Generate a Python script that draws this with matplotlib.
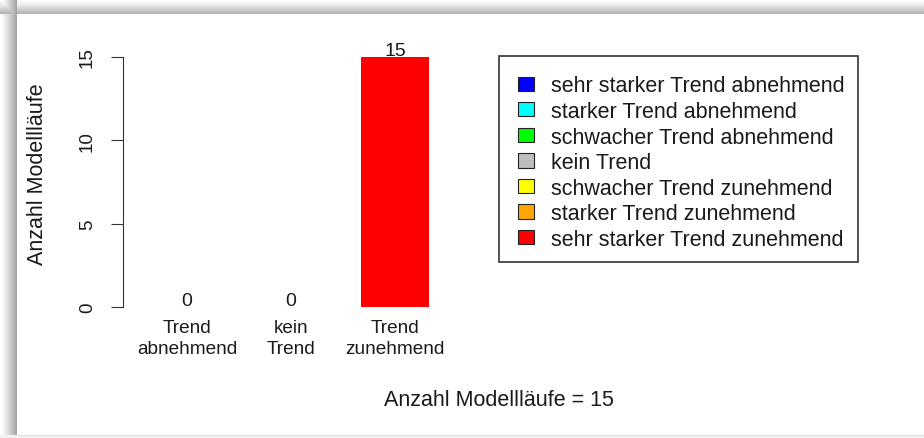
import numpy as np
import matplotlib
matplotlib.use("Agg")
import matplotlib.pyplot as plt
from matplotlib.patches import Patch, Rectangle

plt.rcParams['font.family'] = ['Liberation Sans', 'DejaVu Sans']

# data
categories = ["Trend\nabnehmend", "kein\nTrend", "Trend\nzunehmend"]
counts = [0, 0, 15]
bar_colors = ["#0000ff", "#bebebe", "#ff0000"]

legend_labels = [
    "sehr starker Trend abnehmend",
    "starker Trend abnehmend",
    "schwacher Trend abnehmend",
    "kein Trend",
    "schwacher Trend zunehmend",
    "starker Trend zunehmend",
    "sehr starker Trend zunehmend",
]
legend_colors = ["#0000ff", "#00ffff", "#00ff00", "#bebebe",
                 "#ffff00", "#ffa500", "#ff0000"]

y_ticks = [0, 5, 10, 15]
n_runs = sum(counts)

W, H = 924, 439
fig = plt.figure(figsize=(W / 100, H / 100), dpi=100)

# gray drop-shadow frame around the white plot area
xs = np.arange(W)[None, :] * np.ones((H, 1))
ys = np.arange(H)[:, None] * np.ones((1, W))
shade_x = np.where(xs < 17, 0.36 * (xs / 16.0) ** 1.3, 0)
shade_y = np.where(ys < 15, 0.30 * (ys / 14.0) ** 1.3, 0)
shade = np.maximum(shade_x, shade_y)
shade = np.where((xs < 17) & (ys >= 15), shade_x, shade)
shade = np.where((ys < 15) & (xs >= 17), shade_y, shade)
bg = 1 - shade
bg[436:, :] = 0.95
bg[436, 17:] = 0.88
fig.figimage(bg, xo=0, yo=0, origin="upper", cmap="gray", vmin=0, vmax=1, zorder=-10)

ax = fig.add_axes([123 / W, 1 - 308 / H, (875 - 123) / W, (308 - 58) / H])
ax.patch.set_alpha(0)

x = np.arange(len(categories))
ax.bar(x, counts, width=0.645, color=bar_colors)

for xi, v in zip(x, counts):
    ax.text(xi, v + 0.12, str(v), ha="center", va="baseline", fontsize=14,
            color="#1a1a1a", clip_on=False)

ax.set_xlim(-0.615, 6.615)
ax.set_ylim(0, 15)
ax.set_yticks(y_ticks)
ax.set_yticklabels([str(t) for t in y_ticks], rotation=90, va="center")
ax.set_xticks(x)
ax.set_xticklabels(categories, fontsize=13.7, linespacing=1.3, color="#1a1a1a")

for s in ["top", "right", "bottom"]:
    ax.spines[s].set_visible(False)
ax.spines["left"].set_bounds(0, 15)
ax.spines["left"].set_color("#333333")
ax.tick_params(axis="x", length=0, pad=9)
ax.tick_params(axis="y", length=8.6, pad=11, labelsize=13.5, colors="#333333",
               labelcolor="#1a1a1a")

fig.text(37.5 / W, 1 - 174 / H, "Anzahl Modellläufe", rotation=90, ha="center",
         va="center", fontsize=15.5, color="#1a1a1a")
ax.set_xlabel(f"Anzahl Modellläufe = {n_runs}", fontsize=15.5, labelpad=23,
              color="#1a1a1a")

# legend box drawn separately so the padding can be uneven like in R
fig.add_artist(Rectangle((499 / W, 1 - 263 / H), 359 / W, 206 / H,
                         transform=fig.transFigure, fill=False,
                         edgecolor="#333333", linewidth=1.2))
handles = [Patch(facecolor=c, edgecolor="#222222", linewidth=0.8) for c in legend_colors]
leg = fig.legend(handles, legend_labels, loc="upper left",
                 bbox_to_anchor=(518 / W, 1 - 76.5 / H), fontsize=15.5,
                 frameon=False, borderaxespad=0, borderpad=0,
                 labelspacing=0.21, handlelength=0.75, handleheight=0.63,
                 handletextpad=0.8)
for t in leg.get_texts():
    t.set_color("#1a1a1a")

fig.savefig("out.png", dpi=100)
